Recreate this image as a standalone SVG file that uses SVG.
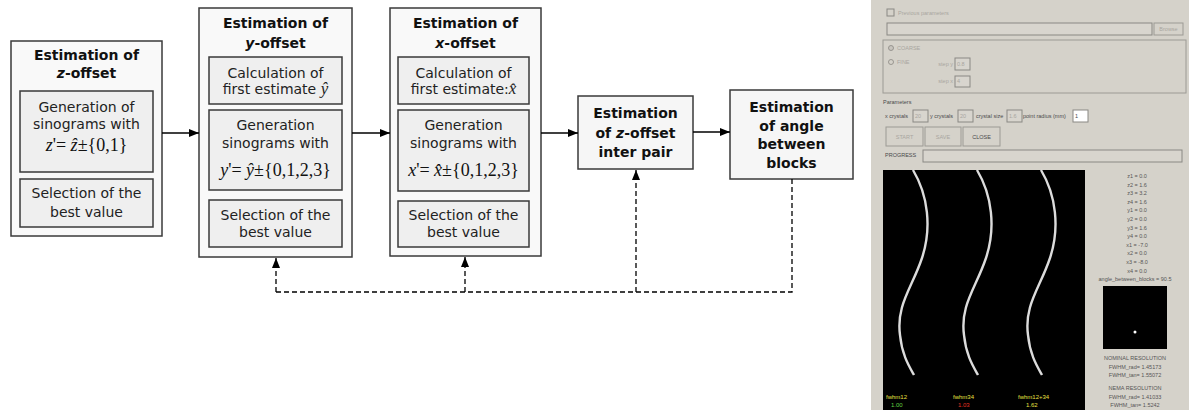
<svg xmlns="http://www.w3.org/2000/svg" width="1189" height="410" viewBox="0 0 1189 410">
<defs>
<marker id="ah" viewBox="0 0 10 8" refX="10" refY="4" markerWidth="10" markerHeight="8" markerUnits="userSpaceOnUse" orient="auto"><path d="M0,0 L10,4 L0,8 z" fill="#000"/></marker>
</defs>
<style>
.outer{fill:#f9f9f9;stroke:#3a3a3a;stroke-width:1.5}
.inner{fill:#efefef;stroke:#3a3a3a;stroke-width:1.5}
.box{fill:#f6f6f6;stroke:#3a3a3a;stroke-width:1.5}
.t{font-family:"DejaVu Sans",sans-serif;font-size:14px;fill:#222;text-anchor:middle}
.b{font-family:"DejaVu Sans",sans-serif;font-size:14px;font-weight:bold;fill:#111;text-anchor:middle}
.m{font-family:"Liberation Serif",serif;font-size:18px;fill:#111;text-anchor:middle}
.i{font-style:italic}
.c{fill:none;stroke:#000;stroke-width:1.3}
.d{stroke-dasharray:5,3}
.ps{font-family:"Liberation Sans",sans-serif;font-size:5.5px;fill:#4a4a4a}
.pd{font-family:"Liberation Sans",sans-serif;font-size:5.5px;fill:#a9a6a0}
.pc{font-family:"Liberation Sans",sans-serif;font-size:5.5px;fill:#555;text-anchor:middle}
.fld{fill:#d8d5ce;stroke:#8a8883;stroke-width:1}
.btn{fill:#d5d2ca;stroke:#9c9a94;stroke-width:1}
.curve{fill:none;stroke:#dcdcdc;stroke-width:2.4}
</style>

<g id="node-z-offset">
<rect class="outer" x="11" y="41" width="151" height="195"/>
<text class="b" x="86.5" y="60">Estimation of</text>
<text class="b" x="86.5" y="78"><tspan class="i">z</tspan>-offset</text>
<rect class="inner" x="20" y="91" width="133" height="81"/>
<text class="t" x="86.5" y="112">Generation of</text>
<text class="t" x="86.5" y="129">sinograms with</text>
<text class="m" x="86.5" y="151"><tspan class="i">z</tspan>'= <tspan class="i">ẑ</tspan>±{0,1}</text>
<rect class="inner" x="20" y="179" width="133" height="48"/>
<text class="t" x="86.5" y="198">Selection of the</text>
<text class="t" x="86.5" y="217">best value</text>
</g>

<g id="node-y-offset">
<rect class="outer" x="199" y="8" width="153" height="249"/>
<text class="b" x="275.5" y="28">Estimation of</text>
<text class="b" x="275.5" y="48"><tspan class="i">y</tspan>-offset</text>
<rect class="inner" x="209" y="57" width="133" height="47"/>
<text class="t" x="275.5" y="78">Calculation of</text>
<text class="t" x="275.5" y="94">first estimate <tspan class="i" style="font-family:'Liberation Serif',serif;font-size:17px">ŷ</tspan></text>
<rect class="inner" x="209" y="110" width="133" height="80"/>
<text class="t" x="275.5" y="130">Generation</text>
<text class="t" x="275.5" y="148">sinograms with</text>
<text class="m" x="275.5" y="176"><tspan class="i">y</tspan>'= <tspan class="i">ŷ</tspan>±{0,1,2,3}</text>
<rect class="inner" x="209" y="200" width="133" height="47"/>
<text class="t" x="275.5" y="220">Selection of the</text>
<text class="t" x="275.5" y="237">best value</text>
</g>

<g id="node-x-offset">
<rect class="outer" x="390" y="8" width="151" height="248"/>
<text class="b" x="465.5" y="28">Estimation of</text>
<text class="b" x="465.5" y="48"><tspan class="i">x</tspan>-offset</text>
<rect class="inner" x="398" y="57" width="131" height="47"/>
<text class="t" x="463.5" y="78">Calculation of</text>
<text class="t" x="463.5" y="94">first estimate:<tspan class="i" style="font-family:'Liberation Serif',serif;font-size:17px">x̂</tspan></text>
<rect class="inner" x="398" y="110" width="131" height="81"/>
<text class="t" x="463.5" y="130">Generation</text>
<text class="t" x="463.5" y="148">sinograms with</text>
<text class="m" x="463.5" y="176"><tspan class="i">x</tspan>'= <tspan class="i">x̂</tspan>±{0,1,2,3}</text>
<rect class="inner" x="398" y="201" width="131" height="46"/>
<text class="t" x="463.5" y="220">Selection of the</text>
<text class="t" x="463.5" y="237">best value</text>
</g>

<g id="node-z-inter">
<rect class="box" x="578" y="96" width="115" height="73"/>
<text class="b" x="635.5" y="118">Estimation</text>
<text class="b" x="635.5" y="138">of <tspan class="i">z</tspan>-offset</text>
<text class="b" x="635.5" y="157">inter pair</text>
</g>

<g id="node-angle">
<rect class="box" x="730" y="90" width="123" height="89"/>
<text class="b" x="791.5" y="112">Estimation</text>
<text class="b" x="791.5" y="131">of angle</text>
<text class="b" x="791.5" y="149">between</text>
<text class="b" x="791.5" y="168">blocks</text>
</g>

<g id="connectors">
<line class="c" x1="162" y1="133" x2="199" y2="133" marker-end="url(#ah)"/>
<line class="c" x1="352" y1="133" x2="390" y2="133" marker-end="url(#ah)"/>
<line class="c" x1="541" y1="133" x2="578" y2="133" marker-end="url(#ah)"/>
<line class="c" x1="693" y1="132" x2="730" y2="132" marker-end="url(#ah)"/>
<polyline class="c d" points="792,179 792,292 276,292"/>
<line class="c d" x1="276" y1="292" x2="276" y2="258" marker-end="url(#ah)"/>
<line class="c d" x1="465" y1="292" x2="465" y2="257" marker-end="url(#ah)"/>
<line class="c d" x1="636" y1="292" x2="636" y2="170" marker-end="url(#ah)"/>
</g>

<g id="screenshot">
<rect x="871" y="0" width="318" height="410" fill="#d5d2ca"/>
<rect x="887" y="9" width="7" height="7" fill="#d5d2ca" stroke="#8a8883"/>
<text class="pd" x="898" y="14.5">Previous parameters</text>
<rect class="fld" x="887" y="23" width="265" height="12"/>
<rect class="btn" x="1154" y="23" width="29" height="12"/>
<text class="pd" x="1168.5" y="31" text-anchor="middle">Browse</text>
<rect x="883" y="40" width="303" height="53" fill="none" stroke="#9c9a94"/>
<circle cx="891" cy="48" r="2.5" fill="#c8c5be" stroke="#8a8883" stroke-width="0.8"/>
<text class="pd" x="897" y="50">COARSE</text>
<circle cx="891" cy="62" r="2.5" fill="#d5d2ca" stroke="#8a8883" stroke-width="0.8"/>
<text class="pd" x="897" y="64">FINE</text>
<text class="pd" x="953" y="66" text-anchor="end">step y</text>
<rect class="fld" x="955" y="58" width="15" height="12"/>
<text class="pd" x="957" y="66">0.8</text>
<text class="pd" x="953" y="83" text-anchor="end">step x</text>
<rect class="fld" x="955" y="76" width="15" height="11"/>
<text class="pd" x="957" y="83">4</text>
<text class="ps" x="883" y="104">Parameters</text>
<text class="ps" x="885" y="118">x crystals</text>
<rect class="fld" x="913" y="110" width="15" height="12"/>
<text class="pd" x="915" y="118">20</text>
<text class="ps" x="930" y="118">y crystals</text>
<rect class="fld" x="958" y="110" width="15" height="12"/>
<text class="pd" x="960" y="118">20</text>
<text class="ps" x="976" y="118">crystal size</text>
<rect class="fld" x="1007" y="110" width="15" height="12"/>
<text class="pd" x="1009" y="118">1.6</text>
<text class="ps" x="1023" y="118">point radius (mm)</text>
<rect x="1073" y="110" width="15" height="12" fill="#fff" stroke="#8a8883"/>
<text class="ps" x="1075" y="118">1</text>
<rect class="btn" x="886" y="127" width="37" height="19"/>
<text class="pd" x="904.5" y="138.5" text-anchor="middle">START</text>
<rect class="btn" x="925" y="127" width="36" height="19"/>
<text class="pd" x="943" y="138.5" text-anchor="middle">SAVE</text>
<rect class="btn" x="963" y="127" width="37" height="19"/>
<text class="ps" x="981.5" y="138.5" text-anchor="middle">CLOSE</text>
<text class="ps" x="885" y="157">PROGRESS</text>
<rect class="fld" x="923" y="150" width="259" height="12"/>
<rect x="883" y="170" width="202" height="240" fill="#000"/>
<path class="curve" d="M913,170 C928,195 932,228 922,258 C912,288 896,305 900,335 C902,355 909,366 914,375"/>
<path class="curve" d="M977,170 C992,195 996,228 986,258 C976,288 960,305 964,335 C966,355 973,366 978,375"/>
<path class="curve" d="M1041,170 C1056,195 1060,228 1050,258 C1040,288 1024,305 1028,335 C1030,355 1037,366 1042,375"/>
<text x="886" y="399" style="font-family:'Liberation Sans',sans-serif;font-size:6px;fill:#e8e040">fwhm12</text>
<text x="891" y="407" style="font-family:'Liberation Sans',sans-serif;font-size:6px;fill:#60d040">1.00</text>
<text x="953" y="399" style="font-family:'Liberation Sans',sans-serif;font-size:6px;fill:#e8e040">fwhm34</text>
<text x="958" y="407" style="font-family:'Liberation Sans',sans-serif;font-size:6px;fill:#e03020">1.03</text>
<text x="1018" y="399" style="font-family:'Liberation Sans',sans-serif;font-size:6px;fill:#e8e040">fwhm12+34</text>
<text x="1026" y="407" style="font-family:'Liberation Sans',sans-serif;font-size:6px;fill:#e8e040">1.62</text>
<text class="pc" x="1137" y="178">z1 = 0.0</text>
<text class="pc" x="1137" y="186.6">z2 = 1.6</text>
<text class="pc" x="1137" y="195.2">z3 = 3.2</text>
<text class="pc" x="1137" y="203.8">z4 = 1.6</text>
<text class="pc" x="1137" y="212.4">y1 = 0.0</text>
<text class="pc" x="1137" y="221">y2 = 0.0</text>
<text class="pc" x="1137" y="229.6">y3 = 1.6</text>
<text class="pc" x="1137" y="238.2">y4 = 0.0</text>
<text class="pc" x="1137" y="246.8">x1 = -7.0</text>
<text class="pc" x="1137" y="255.4">x2 = 0.0</text>
<text class="pc" x="1137" y="264">x3 = -8.0</text>
<text class="pc" x="1137" y="272.6">x4 = 0.0</text>
<text class="pc" x="1135" y="281.2">angle_between_blocks = 90.5</text>
<rect x="1103" y="286" width="64" height="63" fill="#000"/>
<circle cx="1135" cy="332" r="1.5" fill="#fff"/>
<text class="pc" x="1135" y="360">NOMINAL RESOLUTION</text>
<text class="pc" x="1135" y="369">FWHM_rad= 1.45173</text>
<text class="pc" x="1135" y="377">FWHM_tan= 1.55072</text>
<text class="pc" x="1135" y="390">NEMA RESOLUTION</text>
<text class="pc" x="1135" y="399">FWHM_rad= 1.41033</text>
<text class="pc" x="1135" y="407">FWHM_tan= 1.5242</text>
</g>
</svg>
